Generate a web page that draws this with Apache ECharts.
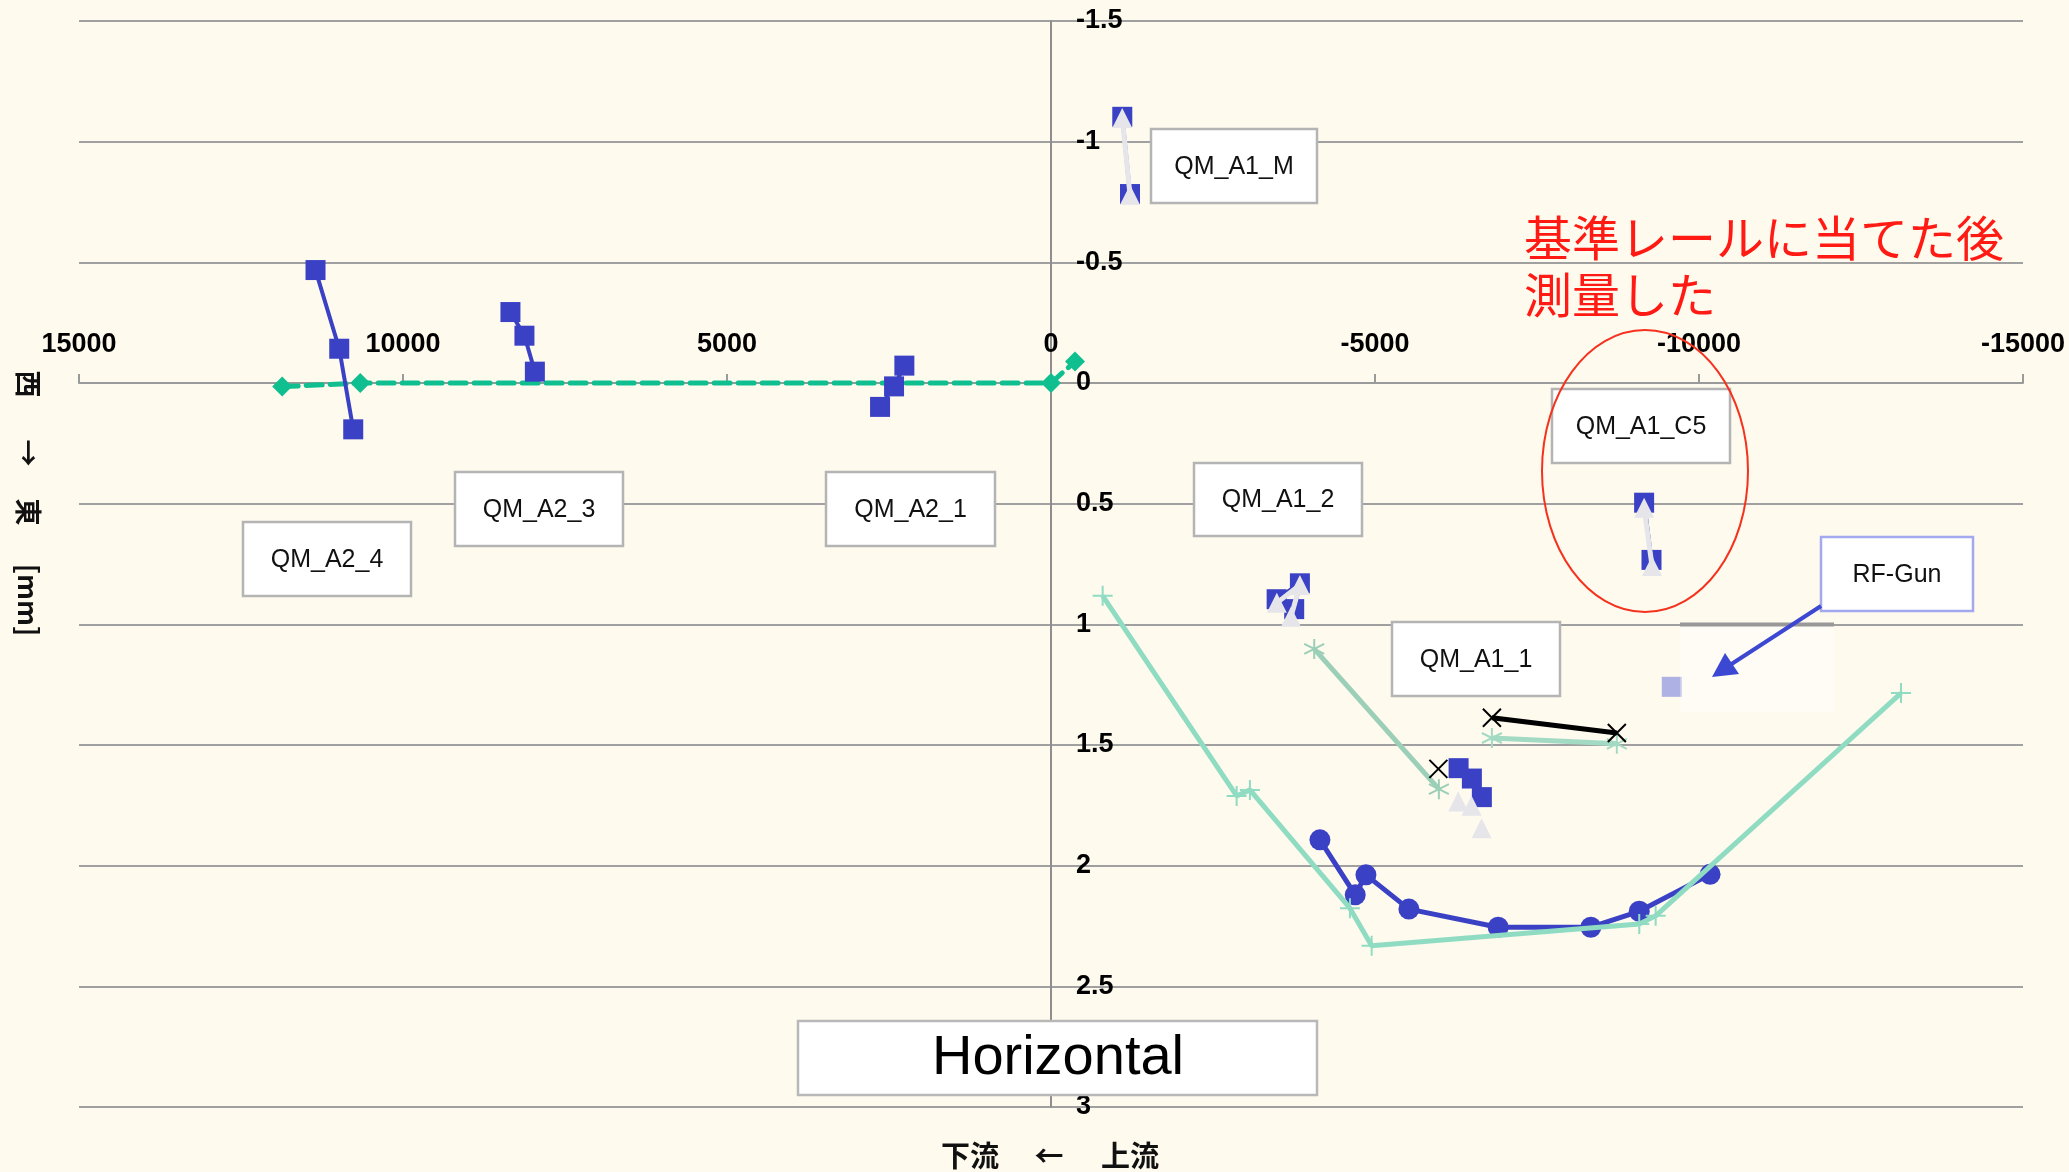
<!DOCTYPE html>
<html><head><meta charset="utf-8">
<script src="https://cdn.jsdelivr.net/npm/echarts@6/dist/echarts.min.js"></script>
<style>html,body{margin:0;padding:0;background:#fefaee}#c{width:2069px;height:1172px}</style>
</head><body><div id="c"></div>
<script>
// ---- axis ticks ----
const xTickValues = [15000, 10000, 5000, 0, -5000, -10000, -15000];
const yTickValues = [-1.5, -1, -0.5, 0, 0.5, 1, 1.5, 2, 2.5, 3];

// ---- data: [longitudinal position, horizontal offset mm] ----
const refLine   = [[11864, 0.015], [10660, 0], [0, 0], [-370, -0.089]];
const qmA2_4    = [[11350, -0.468], [10984, -0.142], [10768, 0.192]];
const qmA2_3    = [[8342, -0.294], [8126, -0.196], [7965, -0.047]];
const qmA2_1    = [[2263, -0.072], [2422, 0.014], [2638, 0.099]];
const qmA1_M_sq  = [[-1100, -1.103], [-1219, -0.783]];
const qmA1_M_tri = [[-1100, -1.098], [-1219, -0.780]];
const qmA1_C5_sq  = [[-9153, 0.496], [-9267, 0.733]];
const qmA1_C5_tri = [[-9153, 0.517], [-9275, 0.758]];
const qmA1_2_sq  = [[-3482, 0.896], [-3841, 0.830], [-3753, 0.937]];
const qmA1_2_tri = [[-3485, 0.911], [-3841, 0.837], [-3703, 0.969]];
const qmA1_1_sq  = [[-6290, 1.596], [-6495, 1.639], [-6649, 1.716]];
const qmA1_1_tri = [[-6284, 1.734], [-6490, 1.752], [-6645, 1.845]];
const blackLone = [[-5978, 1.599]];
const blackLine = [[-6804, 1.387], [-8732, 1.450]];
const greenA = [[-4062, 1.102], [-5986, 1.683]];
const greenB = [[-6804, 1.471], [-8732, 1.495]];
const mintCurve = [[-797, 0.882], [-2865, 1.711], [-3070, 1.686], [-4613, 2.176], [-4948, 2.332], [-9078, 2.242], [-9331, 2.208], [-13117, 1.285]];
const blueCircles = [[-4150, 1.893], [-4695, 2.121], [-4860, 2.038], [-5523, 2.180], [-6901, 2.255], [-8331, 2.255], [-9078, 2.189], [-10171, 2.036]];
const rfGun = [[-9580, 1.259]];

// ---- texts ----
const boxLabels = ['QM_A1_M', 'QM_A2_4', 'QM_A2_3', 'QM_A2_1', 'QM_A1_2', 'QM_A1_C5', 'QM_A1_1', 'RF-Gun'];
const titleText = 'Horizontal';
const noteLines = ['基準レールに当てた後', '測量した'];
const yNameParts = ['西', '→', '東', '[mm]'];
const xNameParts = ['下流', '←', '上流'];

const BLUE = '#3a41c4';
const TRI = '#e5e5ea';
const FONT = 'Liberation Sans, Arial, sans-serif';
const X_PATH = 'path://M0 0L10 10M10 0L0 10';
const AST_PATH = 'path://M5 0L5 10M0 2.5L10 7.5M0 7.5L10 2.5';
const PLUS_PATH = 'path://M5 0L5 10M0 5L10 5';

function sqSeries(data, withLine) {
  return { type: 'line', data, symbol: 'rect', symbolSize: 20,
    itemStyle: { color: BLUE },
    lineStyle: { color: BLUE, width: withLine ? 4 : 0 }, z: 3 };
}
function triSeries(data, withLine) {
  return { type: 'line', data, symbol: 'triangle', symbolSize: 20,
    itemStyle: { color: TRI },
    lineStyle: { color: TRI, width: withLine ? 5 : 0 }, z: 4 };
}

const series = [
  { type: 'line', data: refLine, symbol: 'diamond', symbolSize: 20,
    itemStyle: { color: '#10bf8f' },
    lineStyle: { color: '#10bf8f', width: 5, type: [16, 8], cap: 'round' }, z: 3 },
  sqSeries(qmA2_4, true),
  sqSeries(qmA2_3, true),
  sqSeries(qmA2_1, true),
  sqSeries(qmA1_M_sq, true), triSeries(qmA1_M_tri, true),
  sqSeries(qmA1_C5_sq, true), triSeries(qmA1_C5_tri, true),
  sqSeries(qmA1_2_sq, true), triSeries(qmA1_2_tri, true),
  { type: 'line', data: greenA, symbol: AST_PATH, symbolSize: 20,
    itemStyle: { color: '#9ccfb8', borderColor: '#9ccfb8', borderWidth: 2 },
    lineStyle: { color: '#9ccfb8', width: 5 }, z: 3 },
  { type: 'line', data: greenB, symbol: AST_PATH, symbolSize: 20,
    itemStyle: { color: '#a3dac3', borderColor: '#a3dac3', borderWidth: 2 },
    lineStyle: { color: '#a3dac3', width: 5 }, z: 3 },
  { type: 'line', data: blackLine, symbol: X_PATH, symbolSize: 18,
    itemStyle: { color: '#000', borderColor: '#000', borderWidth: 2 },
    lineStyle: { color: '#000', width: 5 }, z: 4 },
  { type: 'line', data: blackLone, symbol: X_PATH, symbolSize: 18,
    itemStyle: { color: '#000', borderColor: '#000', borderWidth: 2 }, z: 4 },
  sqSeries(qmA1_1_sq, false), triSeries(qmA1_1_tri, false),
  { type: 'line', data: blueCircles, symbol: 'circle', symbolSize: 21,
    itemStyle: { color: BLUE }, lineStyle: { color: BLUE, width: 5 }, z: 3 },
  { type: 'line', data: mintCurve, symbol: PLUS_PATH, symbolSize: 20,
    itemStyle: { color: '#8fdcc3', borderColor: '#8fdcc3', borderWidth: 2 },
    lineStyle: { color: '#8fdcc3', width: 5 }, z: 4 },
  { type: 'scatter', data: rfGun, symbol: 'rect', symbolSize: 20,
    itemStyle: { color: '#9a9fe0' }, z: 3 }
];

// ---- annotation boxes (pixel layout) ----
const boxRects = [
  [1151, 129, 166, 74], [243, 522, 168, 74], [455, 472, 168, 74], [826, 472, 169, 74],
  [1194, 463, 168, 73], [1552, 389, 178, 74], [1392, 622, 168, 74], [1821, 537, 152, 74]
];
const graphics = [];
graphics.push({ type: 'rect', z: 5, shape: { x: 1680, y: 626, width: 154, height: 86 }, style: { fill: 'rgba(255,255,255,0.35)' } });
graphics.push({ type: 'line', z: 6, shape: { x1: 1680, y1: 624.5, x2: 1834, y2: 624.5 }, style: { stroke: '#989898', lineWidth: 4 } });
boxRects.forEach((r, i) => {
  const isRF = boxLabels[i] === 'RF-Gun';
  graphics.push({ type: 'rect', z: 10, shape: { x: r[0], y: r[1], width: r[2], height: r[3] },
    style: { fill: '#ffffff', stroke: isRF ? '#a3a9ee' : '#b4b4b4', lineWidth: 2.5 } });
  graphics.push({ type: 'text', z: 11, x: r[0] + r[2] / 2, y: r[1] + r[3] / 2 + 1,
    style: { text: boxLabels[i], font: '25px ' + FONT, fill: '#111', align: 'center', verticalAlign: 'middle' } });
});
graphics.push({ type: 'rect', z: 10, shape: { x: 798, y: 1021, width: 519, height: 74 },
  style: { fill: '#ffffff', stroke: '#b8b8b8', lineWidth: 2.5 } });
graphics.push({ type: 'text', z: 11, x: 1058, y: 1059,
  style: { text: titleText, font: '56px ' + FONT, fill: '#000', align: 'center', verticalAlign: 'middle' } });
graphics.push({ type: 'text', z: 11, x: 1524, y: 238,
  style: { text: noteLines[0], font: '48px "Noto Sans CJK JP"', fill: '#ff1a14', align: 'left', verticalAlign: 'middle' } });
graphics.push({ type: 'text', z: 11, x: 1524, y: 295,
  style: { text: noteLines[1], font: '48px "Noto Sans CJK JP"', fill: '#ff1a14', align: 'left', verticalAlign: 'middle' } });
graphics.push({ type: 'ellipse', z: 11, shape: { cx: 1645, cy: 471, rx: 103, ry: 141 },
  style: { fill: 'none', stroke: '#f5321e', lineWidth: 2 } });
graphics.push({ type: 'line', z: 11, shape: { x1: 1821, y1: 606, x2: 1730, y2: 665 },
  style: { stroke: '#3d48d2', lineWidth: 4 } });
graphics.push({ type: 'polygon', z: 11, shape: { points: [[1712, 677], [1725, 653], [1739, 674]] },
  style: { fill: '#3d48d2' } });
const yNameY = [384, 453, 512, 600];
yNameParts.forEach((t, i) => {
  graphics.push({ type: 'text', z: 11, x: 28, y: yNameY[i], rotation: -Math.PI / 2,
    style: { text: t, font: 'bold 27px "Noto Sans CJK JP"', fill: '#111', align: 'center', verticalAlign: 'middle' } });
});
const xNameX = [970, 1049, 1130];
xNameParts.forEach((t, i) => {
  graphics.push({ type: 'text', z: 11, x: xNameX[i], y: 1156,
    style: { text: t, font: 'bold 29px "Noto Sans CJK JP"', fill: '#111', align: 'center', verticalAlign: 'middle' } });
});

const GRID = { left: 79, right: 46, top: 21, bottom: 65 };
const plotW = 2069 - GRID.left - GRID.right;
const plotH = 1172 - GRID.top - GRID.bottom;
const xMin = xTickValues[xTickValues.length - 1], xMax = xTickValues[0];
const yMin = yTickValues[0], yMax = yTickValues[yTickValues.length - 1];
// offsets that put each axis through the other's zero
const xAxisOffset = -plotH * (yMax - 0) / (yMax - yMin);
const yAxisOffset = -plotW * (xMax - 0) / (xMax - xMin);

const chart = echarts.init(document.getElementById('c'));
chart.setOption({
  backgroundColor: '#fefaee',
  animation: false,
  grid: Object.assign({ containLabel: false }, GRID),
  xAxis: {
    type: 'value', min: xMin, max: xMax, interval: 5000, inverse: true,
    position: 'bottom', offset: xAxisOffset,
    axisLine: { onZero: false, lineStyle: { color: '#9a9a9a', width: 2 } },
    axisTick: { show: true, inside: true, length: 9, lineStyle: { color: '#9a9a9a', width: 2 } },
    axisLabel: { inside: true, margin: 25, color: '#000', fontWeight: 'bold', fontSize: 27, fontFamily: FONT,
      formatter: v => String(v) },
    splitLine: { show: false }
  },
  yAxis: {
    type: 'value', min: yMin, max: yMax, interval: 0.5, inverse: true,
    position: 'left', offset: yAxisOffset,
    axisLine: { show: true, onZero: false, lineStyle: { color: '#8e8e8e', width: 2 } },
    axisTick: { show: false },
    axisLabel: { inside: true, margin: 25, color: '#000', fontWeight: 'bold', fontSize: 27, fontFamily: FONT,
      formatter: v => String(v) },
    splitLine: { show: true, lineStyle: { color: '#a0a0a0', width: 2 } }
  },
  series,
  graphic: { elements: graphics }
});
</script>
</body></html>
